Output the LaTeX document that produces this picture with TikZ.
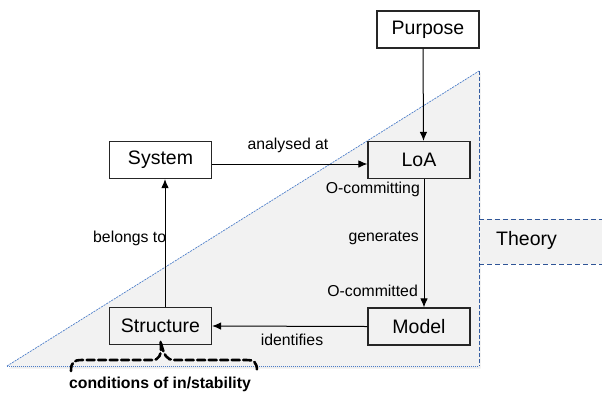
\documentclass[tikz,border=0pt]{standalone}
\usepackage{fontspec}
\setmainfont{Liberation Sans}
\usetikzlibrary{arrows.meta}
\definecolor{panelgray}{HTML}{F2F2F2}
\definecolor{edgeblue}{HTML}{4A7CC9}
\definecolor{darkblue}{HTML}{2F5597}
\tikzset{
  box/.style={draw=black!85, line width=1.1pt, fill=white, minimum width=102pt, minimum height=37pt,
              inner sep=0pt, font=\fontsize{19.5}{21}\selectfont},
  graybox/.style={box, fill=panelgray},
  link/.style={line width=1pt, -{Latex[length=9pt,width=7.5pt]}},
  lbl/.style={font=\fontsize{15.8}{17}\selectfont, inner sep=0pt},
}
\begin{document}
\begin{tikzpicture}[x=1pt,y=-1pt]
\useasboundingbox (0,0) rectangle (602,392);
% shaded theory region with a faint drop shadow
\fill[black!7] (9,368.5) -- (480.5,73) -- (480.5,368.5) -- cycle;
\fill[panelgray] (7,366) -- (479,71) -- (479,366) -- cycle;
\fill[panelgray] (479,219) rectangle (602,264);
\draw[edgeblue, line width=0.7pt, dash pattern=on 2pt off 1pt] (7,366) -- (479,71);
\draw[edgeblue, line width=0.8pt, dash pattern=on 1pt off 1pt] (7,366) -- (479,366);
\draw[darkblue!80!edgeblue, line width=0.8pt, dash pattern=on 4pt off 2pt] (479,71) -- (479,366);
\draw[darkblue, line width=0.8pt, dash pattern=on 5pt off 3pt] (479,219) -- (602,219) (479,264) -- (602,264);
\node[lbl, font=\fontsize{19.5}{21}\selectfont, anchor=west] (theory) at (496,240) {Theory};

% boxes
\node[box] (purpose) at (428,29.5) {Purpose};
\node[box] (system) at (160.5,160) {System};
\node[graybox] (loa) at (419,160) {LoA};
\node[graybox] (model) at (419,326.5) {Model};
\node[graybox] (structure) at (160.5,326) {Structure};

% connectors
\draw[link] ([xshift=-5pt]purpose.south) -- ([xshift=4.5pt]loa.north);
\draw[link] ([yshift=-4pt]system.east) -- ([yshift=-4pt]loa.west);
\draw[link] ([xshift=5pt]loa.south) -- ([xshift=5pt]model.north);
\draw[link] (model.west) -- (structure.east);
\draw[link] ([xshift=4.5pt]structure.north) -- ([xshift=4.5pt]system.south);

% connector labels
\node[lbl] (analysed) at (288,145) {analysed at};
\node[lbl, anchor=east] (ocommitting) at (420,189) {O-committing};
\node[lbl, anchor=east] (generates) at (419,238) {generates};
\node[lbl, anchor=east] (ocommitted) at (418,291) {O-committed};
\node[lbl, anchor=west] (belongs) at (93,238) {belongs to};
\node[lbl] (identifies) at (292,340) {identifies};

% brace under Structure
\coordinate (bl) at (71,371);
\coordinate (br) at (257,371);
\coordinate (tip) at ([yshift=4pt]structure.south);
\draw[line width=2.6pt, dash pattern=on 8pt off 3.5pt, line cap=round]
  (bl) .. controls (71,362) and (74,360) .. (82,360) -- (152,360)
  .. controls (159,360) and (162,356) .. (tip)
  .. controls (164,356) and (167,360) .. (174,360) -- (246,360)
  .. controls (254,360) and (257,362) .. (br);
\node[lbl, font=\bfseries\fontsize{15.8}{17}\selectfont] (cond) at (160,384) {conditions of in/stability};
\end{tikzpicture}
\end{document}
